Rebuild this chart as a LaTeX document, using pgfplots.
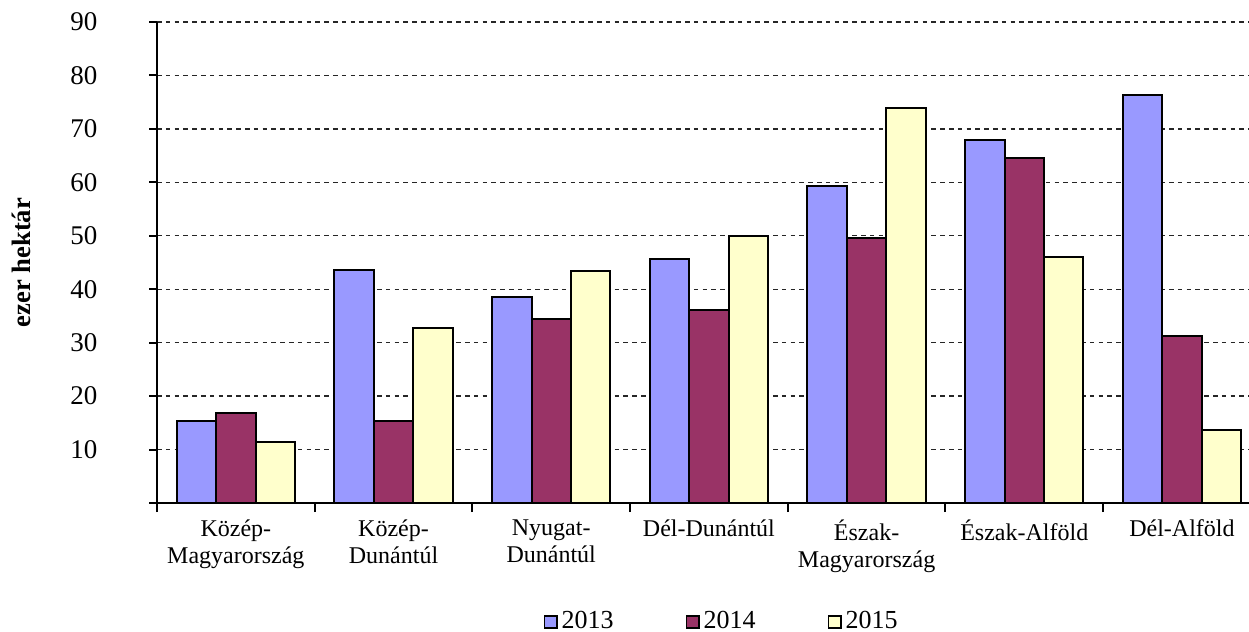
\documentclass[border=0pt]{standalone}
\usepackage{fontspec}
\setmainfont{Liberation Serif}
\usepackage{pgfplots}
\pgfplotsset{compat=1.18}
\definecolor{c2013}{HTML}{9999FF}
\definecolor{c2014}{HTML}{993366}
\definecolor{c2015}{HTML}{FFFFCC}
\begin{document}
\begin{tikzpicture}
\path[use as bounding box] (-78.5pt,-64.5pt) rectangle (546pt,251.5pt);
\begin{axis}[
  at={(0,0)}, anchor=south west,
  scale only axis, width=546pt, height=240.5pt,
  xmin=-0.5, xmax=6.425, ymin=0, ymax=90,
  axis x line*=bottom, axis y line*=left,
  axis line style={line width=1pt},
  ytick={0,10,...,90},
  yticklabels={,10,20,30,40,50,60,70,80,90},
  yticklabel style={font=\fontsize{13.5}{15}\selectfont, xshift=-22.5pt},
  /pgf/number format/assume math mode=true,
  xtick={0,...,6},
  xticklabels={{Közép-\\Magyarország},{Közép-\\Dunántúl},{Nyugat-\\Dunántúl},{Dél-Dunántúl},{Észak-\\Magyarország},{Észak-Alföld},{Dél-Alföld}},
  xticklabel style={align=center, font=\fontsize{12}{13.5}\selectfont, yshift=-1pt},
  minor xtick={-0.5,0.5,...,6.5},
  major x tick style={draw=none},
  tick align=outside,
  major tick length=3.8pt, minor tick length=4.5pt,
  tick style={black, line width=1pt},
  ymajorgrids,
  grid style={black!85, line width=0.7pt, dash pattern=on 2.3pt off 2.1pt},
  ylabel={\textbf{ezer hektár}},
  every axis y label/.style={at={(axis description cs:-0.1245,0.5)}, rotate=90, anchor=center, font=\fontsize{13.3}{15}\selectfont},
  bar width=0.25,
  legend columns=3,
  legend style={at={(0.518,-0.246)}, anchor=center, draw=none, font=\fontsize{13}{14}\selectfont,
    /tikz/every even column/.append style={column sep=34pt}},
  legend image code/.code={\draw[#1, draw=black, line width=0.7pt] (0pt,-3.4pt) rectangle (6.3pt,2.6pt);},
]
\addplot[ybar, bar shift=-0.25, fill=c2013, draw=black, line width=1pt] coordinates {(0,15.3) (1,43.6) (2,38.5) (3,45.7) (4,59.3) (5,67.9) (6,76.3)};
\addplot[ybar, bar shift=0, fill=c2014, draw=black, line width=1pt] coordinates {(0,16.8) (1,15.3) (2,34.4) (3,36.1) (4,49.6) (5,64.5) (6,31.2)};
\addplot[ybar, bar shift=0.25, fill=c2015, draw=black, line width=1pt] coordinates {(0,11.5) (1,32.8) (2,43.4) (3,50.0) (4,74.0) (5,46.1) (6,13.7)};
\legend{2013,2014,2015}
\end{axis}
\end{tikzpicture}
\end{document}
